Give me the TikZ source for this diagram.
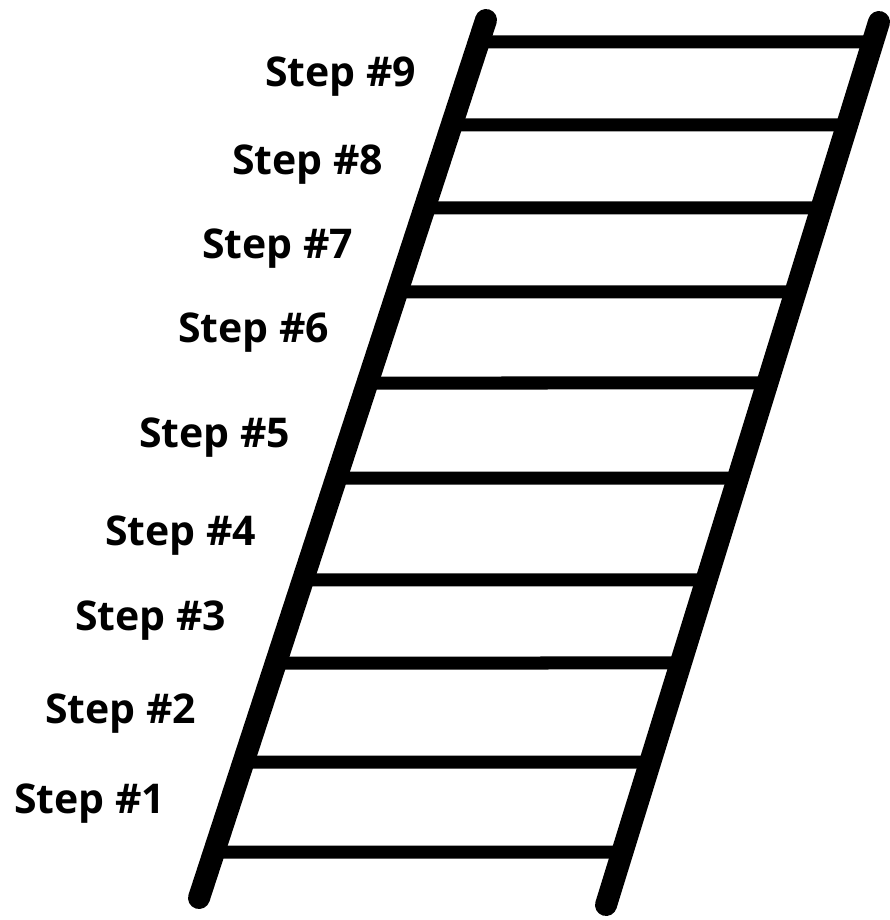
\documentclass[tikz,border=0pt]{standalone}
\usepackage{fontspec}
\setmainfont{Open Sans}
\usetikzlibrary{calc}
\begin{document}
\begin{tikzpicture}[x=1pt,y=-1pt,
  rail/.style={line width=22pt,line cap=round},
  rung/.style={line width=13pt},
  lbl/.style={anchor=base west,inner sep=0pt,font=\fontsize{41}{48}\selectfont\bfseries}]
\fill[white] (0,0) rectangle (890,920);
\useasboundingbox (0,0) rectangle (890,920);
\coordinate (LT) at (486,20);
\coordinate (LB) at (199,898);
\coordinate (RT) at (879,22);
\coordinate (RB) at (606,905);
\foreach \y in {42,125,208,292,383,478,580,663,762,852} {
  \draw[rung] ($(LT)!{(\y-20)/878}!(LB)$) -- ($(RT)!{(\y-22)/883}!(RB)$);
}
\draw[rail] (LT) -- (LB);
\draw[rail] (RT) -- (RB);
\node[lbl] (s9) at (265,87) {Step \#9};
\node[lbl] (s8) at (232,175) {Step \#8};
\node[lbl] (s7) at (202,258) {Step \#7};
\node[lbl] (s6) at (178,342) {Step \#6};
\node[lbl] (s5) at (139,447) {Step \#5};
\node[lbl] (s4) at (105,545) {Step \#4};
\node[lbl] (s3) at (75,630) {Step \#3};
\node[lbl] (s2) at (45,723) {Step \#2};
\node[lbl] (s1) at (14,813) {Step \#1};
\end{tikzpicture}
\end{document}
